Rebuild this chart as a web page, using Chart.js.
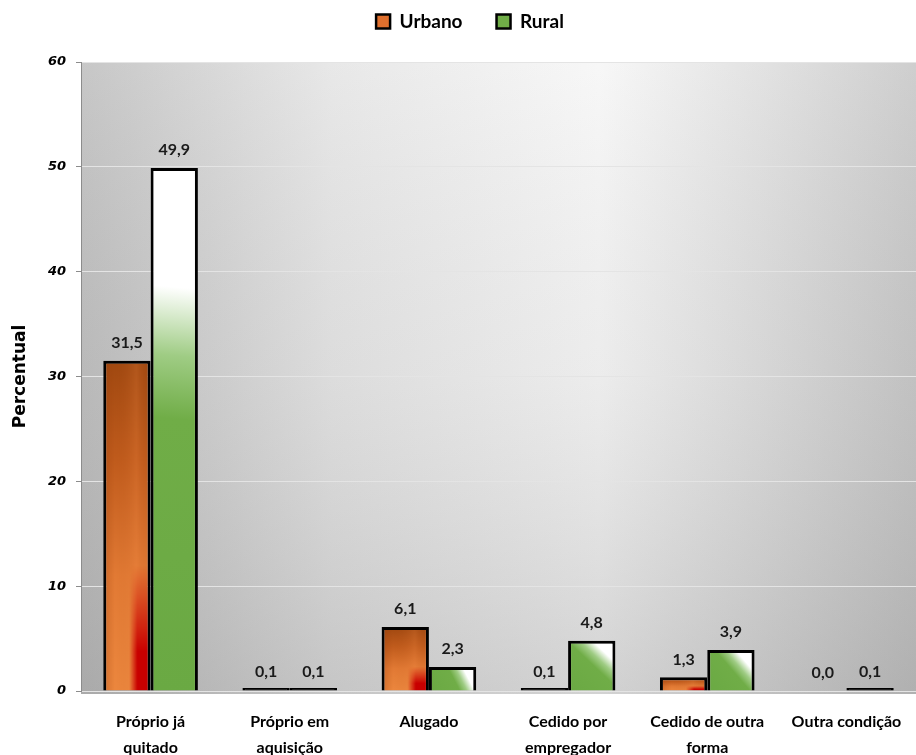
<!DOCTYPE html>
<html>
<head>
<meta charset="utf-8">
<script src="https://cdn.jsdelivr.net/npm/chart.js@4/dist/chart.umd.min.js"></script>
<style>
  html, body { margin: 0; padding: 0; background: #ffffff; }
  #wrap { width: 916px; height: 755px; position: relative; }
</style>
</head>
<body>
<div id="wrap"><canvas id="chart" width="916" height="755"></canvas></div>
<script>
// Condição de ocupação do domicílio, por situação (%)
const categories = [
  ['Próprio já', 'quitado'],
  ['Próprio em', 'aquisição'],
  ['Alugado'],
  ['Cedido por', 'empregador'],
  ['Cedido de outra', 'forma'],
  ['Outra condição']
];
const seriesNames = ['Urbano', 'Rural'];
const urbano = [31.5, 0.1, 6.1, 0.1, 1.3, 0.0];
const rural = [49.9, 0.1, 2.3, 4.8, 3.9, 0.1];
const yTicks = [0, 10, 20, 30, 40, 50, 60];

const CAT_PCT = 0.68;

// Horizontal extent of a bar, from the category scale
function barBounds(chart, dataIndex, datasetIndex) {
  const xs = chart.scales.x;
  const center = xs.getPixelForValue(dataIndex);
  const half = (xs.width / categories.length) * CAT_PCT / 2;
  return datasetIndex === 0 ? [center - half, center] : [center, center + half];
}

// Orange fill: brown top, bright orange body, red glow in the lower right
function paintOrange(w, h) {
  const c = document.createElement('canvas');
  c.width = Math.max(1, Math.ceil(w));
  c.height = Math.max(1, Math.ceil(h));
  const g = c.getContext('2d');
  const v = g.createLinearGradient(0, 0, 0, h);
  v.addColorStop(0, '#a04810');
  v.addColorStop(0.3, '#c05b1c');
  v.addColorStop(0.65, '#e27a34');
  v.addColorStop(1, '#ec873e');
  g.fillStyle = v;
  g.fillRect(0, 0, w, h);
  const side = g.createLinearGradient(0, 0, w, 0);
  side.addColorStop(0, 'rgba(150,60,10,0.30)');
  side.addColorStop(0.25, 'rgba(150,60,10,0.0)');
  side.addColorStop(0.7, 'rgba(255,150,80,0.18)');
  side.addColorStop(1, 'rgba(150,60,10,0.0)');
  g.fillStyle = side;
  g.fillRect(0, 0, w, h);
  // red glow, masked to the right part of the bar
  const r = document.createElement('canvas');
  r.width = c.width; r.height = c.height;
  const rg = r.getContext('2d');
  const rv = rg.createLinearGradient(0, h * 0.62, 0, h * 0.88);
  rv.addColorStop(0, 'rgba(200,0,0,0)');
  rv.addColorStop(1, 'rgba(200,0,0,1)');
  rg.fillStyle = rv;
  rg.fillRect(0, 0, w, h);
  rg.globalCompositeOperation = 'destination-in';
  const rh = rg.createLinearGradient(0, 0, w, 0);
  rh.addColorStop(0, 'rgba(0,0,0,0)');
  rh.addColorStop(0.55, 'rgba(0,0,0,0)');
  rh.addColorStop(0.72, 'rgba(0,0,0,1)');
  rh.addColorStop(1, 'rgba(0,0,0,1)');
  rg.fillStyle = rh;
  rg.fillRect(0, 0, w, h);
  g.drawImage(r, 0, 0);
  return c;
}

function urbanoFill(ctx) {
  if (ctx.type !== 'data') return '#e07030';
  if (ctx.raw === 0) return 'rgba(0,0,0,0)';
  const chart = ctx.chart, ys = chart.scales.y;
  const [x0, x1] = barBounds(chart, ctx.dataIndex, 0);
  const top = ys.getPixelForValue(ctx.raw), base = ys.getPixelForValue(0);
  if (base - top < 4) return '#000000';
  const pat = chart.ctx.createPattern(paintOrange(x1 - x0, base - top), 'no-repeat');
  pat.setTransform(new DOMMatrix([1, 0, 0, 1, x0, top]));
  return pat;
}

function ruralFill(ctx) {
  if (ctx.type !== 'data') return '#70ad47';
  if (ctx.raw === 0) return 'rgba(0,0,0,0)';
  const chart = ctx.chart, ys = chart.scales.y;
  const [x0, x1] = barBounds(chart, ctx.dataIndex, 1);
  const top = ys.getPixelForValue(ctx.raw), base = ys.getPixelForValue(0);
  if (base - top < 4) return '#000000';
  const g = chart.ctx.createLinearGradient(x0, base, x1, top);
  g.addColorStop(0, '#6aa943');
  g.addColorStop(0.52, '#70ad47');
  g.addColorStop(0.64, '#9fcc84');
  g.addColorStop(0.77, '#ffffff');
  g.addColorStop(1, '#ffffff');
  return g;
}

function borderFor(ctx) {
  return ctx.raw === 0 ? 0 : 3;
}

// Grey shaded plot background
const plotBackground = {
  id: 'plotBackground',
  beforeDraw(chart) {
    const { ctx, chartArea: a } = chart;
    ctx.save();
    const h = ctx.createLinearGradient(a.left, 0, a.right, 0);
    h.addColorStop(0, '#bdbdbd');
    h.addColorStop(0.3, '#e4e4e4');
    h.addColorStop(0.62, '#f6f6f6');
    h.addColorStop(1, '#c6c6c6');
    ctx.fillStyle = h;
    ctx.fillRect(a.left, a.top, a.right - a.left, a.bottom - a.top + 3);
    const v = ctx.createLinearGradient(0, a.top, 0, a.bottom);
    v.addColorStop(0, 'rgba(255,255,255,0.15)');
    v.addColorStop(0.5, 'rgba(150,150,150,0.10)');
    v.addColorStop(1, 'rgba(120,120,120,0.28)');
    ctx.fillStyle = v;
    ctx.fillRect(a.left, a.top, a.right - a.left, a.bottom - a.top + 3);
    ctx.restore();
  }
};

// Value labels above each bar
const valueLabels = {
  id: 'valueLabels',
  afterDatasetsDraw(chart) {
    const { ctx } = chart;
    ctx.save();
    ctx.font = 'bold 16px Lato, "Open Sans", sans-serif';
    ctx.fillStyle = '#1a1a1a';
    ctx.textAlign = 'center';
    ctx.textBaseline = 'bottom';
    chart.data.datasets.forEach((ds, di) => {
      chart.getDatasetMeta(di).data.forEach((bar, i) => {
        const txt = ds.data[i].toFixed(1).replace('.', ',');
        const top = chart.scales.y.getPixelForValue(ds.data[i]);
        ctx.fillText(txt, bar.x, top - 10);
      });
    });
    ctx.restore();
  }
};

// Gap between the legend row and the plot, plus legend centring
const legendGap = {
  id: 'legendGap',
  beforeInit(chart) {
    Chart.layouts.addBox(chart, {
      position: 'top',
      weight: 0,
      fullSize: true,
      options: {},
      width: 0,
      height: 0,
      isHorizontal() { return true; },
      update(maxWidth) { this.width = maxWidth; this.height = 21; },
      draw() {}
    });
  },
  afterLayout(chart) {
    if (chart.legend) {
      chart.legend.left += 12;
      chart.legend.right += 12;
    }
  }
};

new Chart(document.getElementById('chart'), {
  type: 'bar',
  data: {
    labels: categories,
    datasets: [
      {
        label: seriesNames[0],
        data: urbano,
        backgroundColor: urbanoFill,
        borderColor: '#000000',
        borderWidth: borderFor,
        borderSkipped: 'start',
        minBarLength: 3,
        categoryPercentage: CAT_PCT,
        barPercentage: 1.0
      },
      {
        label: seriesNames[1],
        data: rural,
        backgroundColor: ruralFill,
        borderColor: '#000000',
        borderWidth: borderFor,
        borderSkipped: 'start',
        minBarLength: 3,
        categoryPercentage: CAT_PCT,
        barPercentage: 1.0
      }
    ]
  },
  options: {
    responsive: false,
    animation: false,
    layout: { padding: { top: -22, left: 0, right: 0, bottom: 0 } },
    plugins: {
      tooltip: { enabled: false },
      legend: {
        position: 'top',
        align: 'center',
        labels: {
          color: '#000000',
          font: { family: 'Lato, "Open Sans", sans-serif', size: 19, weight: 'bold' },
          boxWidth: 14,
          boxHeight: 14,
          padding: 34,
          generateLabels(chart) {
            const fills = ['#e0702e', '#70ad47'];
            return chart.data.datasets.map((ds, i) => ({
              text: ds.label,
              fillStyle: fills[i],
              strokeStyle: '#000000',
              lineWidth: 2.5,
              datasetIndex: i,
              hidden: false
            }));
          }
        }
      }
    },
    scales: {
      x: {
        grid: { display: false },
        border: { display: false },
        ticks: {
          color: '#000000',
          font: { family: 'Lato, "Open Sans", sans-serif', size: 16, weight: 'bold', lineHeight: 1.6 },
          maxRotation: 0,
          autoSkip: false,
          padding: 10
        },
        afterFit(scale) { scale.height = 64; }
      },
      y: {
        min: 0,
        max: 60,
        afterBuildTicks(scale) { scale.ticks = yTicks.map(v => ({ value: v })); },
        grid: {
          color: '#e4e4e4',
          lineWidth: 1,
          drawTicks: true,
          tickLength: 5,
          tickColor: '#8c8c8c'
        },
        border: { display: true, color: '#8c8c8c', width: 1 },
        ticks: {
          color: '#000000',
          font: { family: '"DejaVu Sans", Verdana, sans-serif', size: 13, weight: 'bold', style: 'italic' },
          padding: 10
        },
        title: {
          display: true,
          text: 'Percentual',
          color: '#000000',
          font: { family: '"DejaVu Sans", Verdana, sans-serif', size: 17, weight: 'bold' },
          padding: { top: 10, bottom: 0 }
        },
        afterFit(scale) { scale.width = 81; }
      }
    }
  },
  plugins: [plotBackground, valueLabels, legendGap]
});
</script>
</body>
</html>
